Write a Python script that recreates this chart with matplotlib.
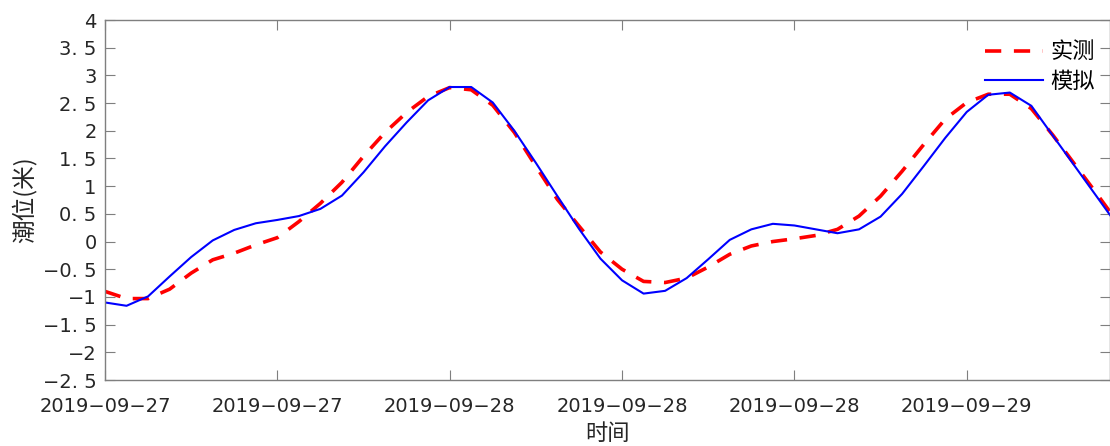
import matplotlib
matplotlib.use('Agg')
import matplotlib.pyplot as plt
import matplotlib.dates as mdates
import numpy as np
import pandas as pd

plt.rcParams['font.family'] = ['Noto Sans CJK SC', 'DejaVu Sans']

# hourly samples starting 2019-09-27 08:00
start = '2019-09-27 08:00'
observed = [-0.90, -1.03, -1.03, -0.86, -0.57, -0.33, -0.21, -0.06, 0.07, 0.36,
            0.69, 1.07, 1.54, 1.97, 2.33, 2.62, 2.78, 2.74, 2.46, 1.97,
            1.36, 0.76, 0.28, -0.19, -0.50, -0.72, -0.74, -0.66, -0.46, -0.23,
            -0.08, 0.00, 0.05, 0.11, 0.22, 0.46, 0.82, 1.27, 1.75, 2.21,
            2.51, 2.66, 2.66, 2.40, 1.92, 1.40, 0.88, 0.35]
simulated = [-1.10, -1.16, -0.99, -0.63, -0.28, 0.02, 0.21, 0.33, 0.39, 0.46,
             0.59, 0.83, 1.25, 1.72, 2.15, 2.55, 2.79, 2.79, 2.51, 2.00,
             1.42, 0.82, 0.23, -0.31, -0.70, -0.94, -0.89, -0.66, -0.32, 0.03,
             0.22, 0.32, 0.29, 0.22, 0.15, 0.22, 0.45, 0.86, 1.36, 1.87,
             2.34, 2.65, 2.69, 2.45, 1.91, 1.37, 0.83, 0.29]
times = pd.date_range(start, periods=len(observed), freq='h')

yticks = [-2.5, -2, -1.5, -1, -0.5, 0, 0.5, 1, 1.5, 2, 2.5, 3, 3.5, 4]

fig = plt.figure(figsize=(11.1, 4.46), dpi=100)
ax = fig.add_axes([105 / 1110, 66 / 446, 1005 / 1110, 360 / 446])

ax.plot(times, observed, color='red', lw=2.6, ls=(0, (4.5, 3.5)), label='实测')
ax.plot(times, simulated, color='blue', lw=1.5, label='模拟')

t0 = pd.Timestamp(start)
ax.set_xlim(t0, t0 + pd.Timedelta(hours=46.65))
ax.set_ylim(-2.5, 4)
ax.set_yticks(yticks)
ax.set_yticklabels([f'{v:g}'.replace('-', '\u2212').replace('.', '. ') for v in yticks])
ax.xaxis.set_major_locator(mdates.HourLocator(byhour=[0, 8, 16]))
ax.xaxis.set_major_formatter(mdates.DateFormatter('%Y\u2212%m\u2212%d'))

ax.tick_params(direction='in', length=7, width=0.8, top=True, right=True,
               labelsize=14, colors='#7f7f7f', labelcolor='#262626')
for lab in ax.get_xticklabels() + ax.get_yticklabels():
    lab.set_family('DejaVu Sans')
ax.tick_params(axis='x', pad=12)
ax.tick_params(axis='y', pad=6)
for s in ax.spines.values():
    s.set_color('#7f7f7f')
    s.set_linewidth(1.0)

ax.set_ylabel('潮位(米)', fontsize=17, color='#262626')
ax.yaxis.set_label_coords(-68 / 1005, 0.5)
ax.set_xlabel('时间', fontsize=16, color='#262626')
ax.xaxis.set_label_coords(0.5, -42 / 360)

leg = ax.legend(loc='upper right', frameon=False, fontsize=16,
                handlelength=2.6, handletextpad=0.35, borderaxespad=0,
                labelspacing=0.3, bbox_to_anchor=(0.994, 0.968))

fig.savefig('out.png', dpi=100)
